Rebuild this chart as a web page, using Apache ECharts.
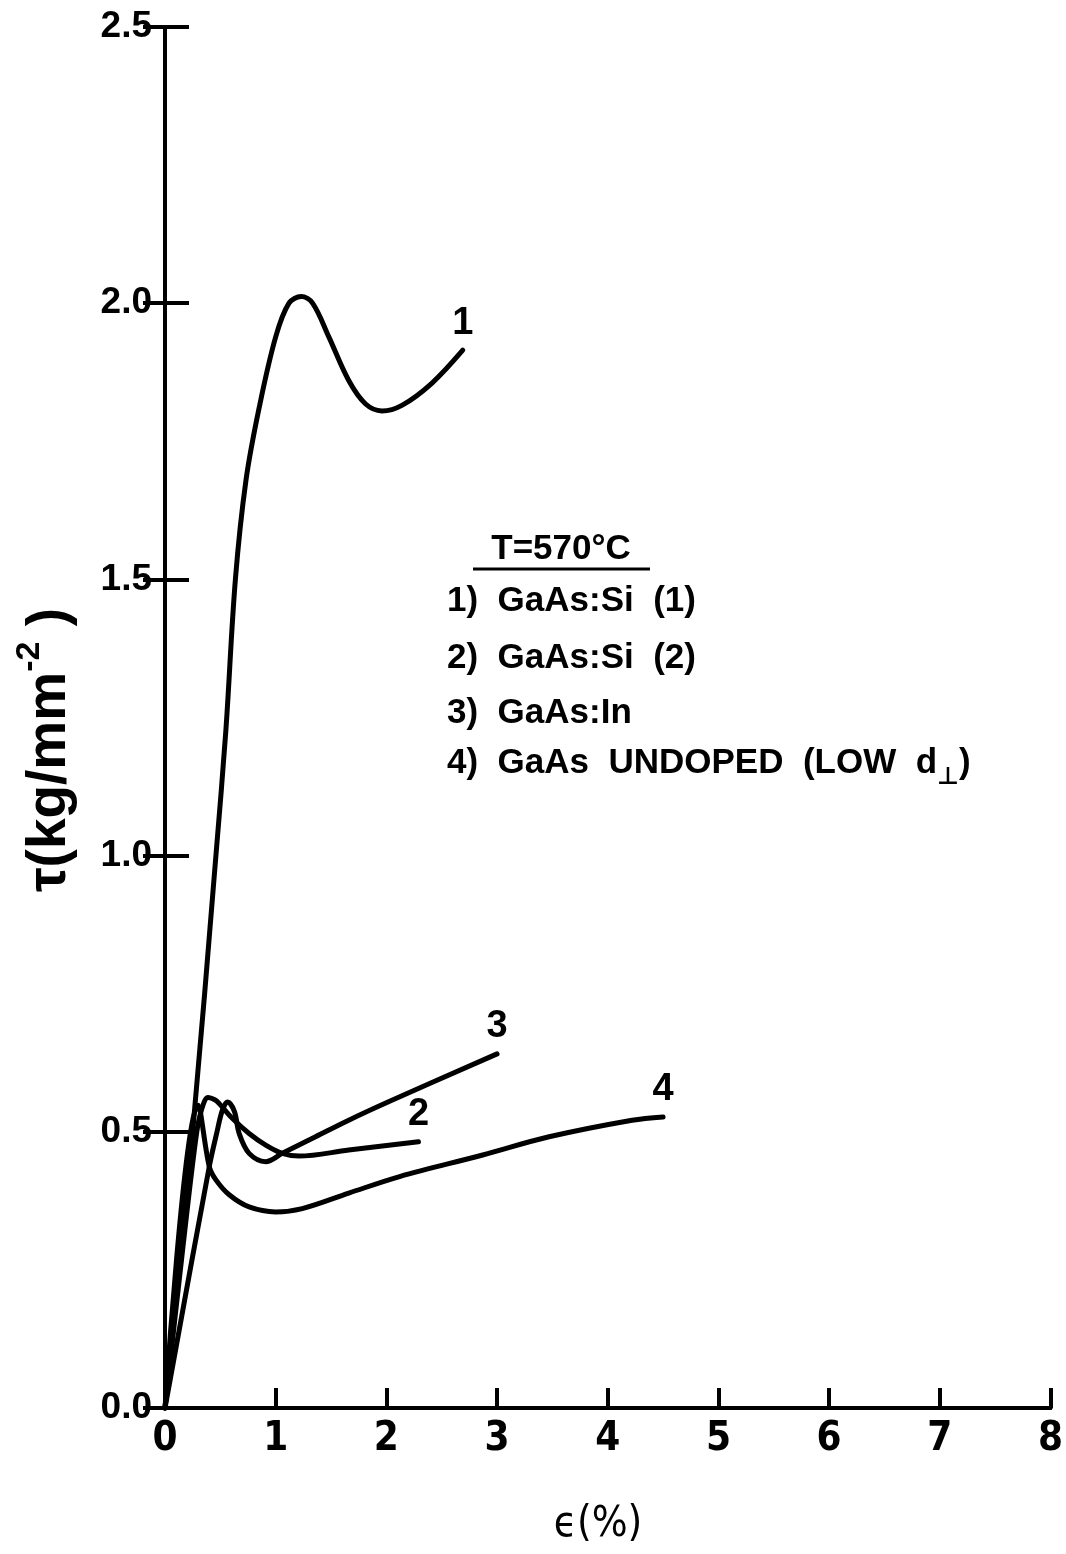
<!DOCTYPE html>
<html>
<head>
<meta charset="utf-8">
<title>Resolved shear stress vs strain, GaAs at 570 °C</title>
<script src="https://cdn.jsdelivr.net/npm/echarts@6/dist/echarts.min.js"></script>
<style>
  html, body { margin: 0; padding: 0; background: #fff; }
  #chart { width: 1066px; height: 1554px; }
</style>
</head>
<body>
<div id="chart"></div>
<script>
// Strain (%) and resolved shear stress (kg/mm^2) for each specimen
const strain1 = [0, 0.25, 0.46, 0.55, 0.636, 0.732, 0.852, 1.0, 1.12, 1.23, 1.333, 1.48, 1.66, 1.81, 1.96, 2.14, 2.41, 2.69];
const stress1 = [0, 0.5, 1.0, 1.227, 1.5, 1.68, 1.812, 1.939, 2.0, 2.012, 2.0, 1.939, 1.86, 1.818, 1.805, 1.815, 1.855, 1.915];

const strain2 = [0, 0.15, 0.28, 0.33, 0.39, 0.45, 0.49, 0.61, 0.76, 0.91, 1.06, 1.21, 1.66, 2.29];
const stress2 = [0, 0.27, 0.49, 0.54, 0.562, 0.558, 0.551, 0.524, 0.497, 0.476, 0.461, 0.456, 0.467, 0.482];

const strain3 = [0, 0.40, 0.47, 0.52, 0.566, 0.627, 0.67, 0.76, 0.91, 1.06, 1.36, 1.66, 2.05, 3.0];
const stress3 = [0, 0.437, 0.50, 0.54, 0.554, 0.537, 0.497, 0.461, 0.446, 0.461, 0.491, 0.521, 0.557, 0.641];

const strain4 = [0, 0.30, 0.40, 0.46, 0.58, 0.76, 1.0, 1.24, 1.66, 2.12, 2.87, 3.47, 4.22, 4.5];
const stress4 = [0, 0.548, 0.437, 0.413, 0.386, 0.364, 0.355, 0.361, 0.389, 0.419, 0.458, 0.491, 0.521, 0.527];

const curveTags = ['1', '2', '3', '4'];
const legendTitle = 'T=570°C';
const legendLines = [
  '1)  GaAs:Si  (1)',
  '2)  GaAs:Si  (2)',
  '3)  GaAs:In'
];
const xTicks = { min: 0, max: 8, step: 1 };
const yTicks = { min: 0, max: 2.5, step: 0.5 };

const INK = '#000';
const NARROW = '"Liberation Sans Narrow", "DejaVu Sans Condensed", "Liberation Sans", sans-serif';
const SANS = '"Liberation Sans", Arial, sans-serif';

function curveSeries(tag, xs, ys) {
  const pts = xs.map((x, i) => [x, ys[i]]);
  const last = pts.length - 1;
  return {
    type: 'line',
    name: tag,
    data: pts.map((p, i) => (i === last ? { value: p, label: { show: true } } : p)),
    smooth: 0.35,
    symbol: 'circle',
    symbolSize: 0,
    showSymbol: true,
    lineStyle: { color: INK, width: 5, cap: 'round', join: 'round' },
    itemStyle: { color: INK },
    label: {
      show: false,
      position: 'top',
      distance: 8,
      formatter: tag,
      color: INK,
      fontFamily: SANS,
      fontWeight: 'bold',
      fontSize: 38
    },
    emphasis: { disabled: true },
    clip: false
  };
}

const chart = echarts.init(document.getElementById('chart'), null, { renderer: 'canvas' });

const tickStyle = { show: true, inside: true, lineStyle: { color: INK, width: 4 } };
const lineStyle = { show: true, lineStyle: { color: INK, width: 4 } };

chart.setOption({
  backgroundColor: '#fff',
  animation: false,
  grid: { left: 165, right: 13, top: 27, bottom: 146, containLabel: false },
  xAxis: [
    {
      type: 'value', position: 'bottom',
      min: xTicks.min, max: xTicks.max, interval: xTicks.step,
      axisLine: lineStyle,
      axisTick: Object.assign({ length: 20 }, tickStyle),
      axisLabel: { color: INK, fontFamily: NARROW, fontWeight: 'bold', fontSize: 40, margin: 12 },
      splitLine: { show: false }
    },
    {
      type: 'value', position: 'top',
      min: xTicks.min, max: xTicks.max, interval: xTicks.step,
      axisLine: lineStyle,
      axisTick: { show: false },
      axisLabel: { show: false },
      splitLine: { show: false }
    }
  ],
  yAxis: [
    {
      type: 'value', position: 'left',
      min: yTicks.min, max: yTicks.max, interval: yTicks.step,
      axisLine: lineStyle,
      axisTick: Object.assign({ length: 24 }, tickStyle),
      axisLabel: {
        color: INK, fontFamily: SANS, fontWeight: 'bold', fontSize: 37, margin: 13,
        formatter: v => v.toFixed(1)
      },
      splitLine: { show: false }
    },
    {
      type: 'value', position: 'right',
      min: yTicks.min, max: yTicks.max, interval: yTicks.step,
      axisLine: lineStyle,
      axisTick: Object.assign({ length: 22 }, tickStyle),
      axisLabel: { show: false },
      splitLine: { show: false }
    }
  ],
  series: [
    curveSeries(curveTags[0], strain1, stress1),
    curveSeries(curveTags[1], strain2, stress2),
    curveSeries(curveTags[2], strain3, stress3),
    curveSeries(curveTags[3], strain4, stress4)
  ],
  graphic: [
    // y-axis title, reading upward
    {
      type: 'text', x: 45, y: 750, rotation: Math.PI / 2,
      style: {
        text: '{m|τ(kg/mm}{s|-2}{m| )}',
        align: 'center', verticalAlign: 'middle', fill: INK,
        rich: {
          m: { font: 'bold 55px ' + SANS, lineHeight: 64, verticalAlign: 'bottom' },
          s: { font: 'bold 34px ' + SANS, lineHeight: 64, verticalAlign: 'top' }
        }
      }
    },
    // x-axis title
    {
      type: 'text', x: 598, y: 1525,
      style: {
        text: 'ϵ(%)', font: '42px ' + NARROW, fill: INK,
        align: 'center', verticalAlign: 'middle'
      }
    },
    // annotation block
    {
      type: 'text', x: 561, y: 549,
      style: { text: legendTitle, font: 'bold 35px ' + SANS, fill: INK, align: 'center', verticalAlign: 'middle' }
    },
    {
      type: 'line', shape: { x1: 473, y1: 569, x2: 650, y2: 569 },
      style: { stroke: INK, lineWidth: 3 }
    },
    {
      type: 'text', x: 447, y: 601,
      style: { text: legendLines[0], font: 'bold 35px ' + SANS, fill: INK, align: 'left', verticalAlign: 'middle' }
    },
    {
      type: 'text', x: 447, y: 658,
      style: { text: legendLines[1], font: 'bold 35px ' + SANS, fill: INK, align: 'left', verticalAlign: 'middle' }
    },
    {
      type: 'text', x: 447, y: 713,
      style: { text: legendLines[2], font: 'bold 35px ' + SANS, fill: INK, align: 'left', verticalAlign: 'middle' }
    },
    {
      type: 'text', x: 447, y: 768,
      style: {
        text: '{b|4)  GaAs  UNDOPED  (LOW  d}{u|⊥}{b|)}',
        align: 'left', verticalAlign: 'middle', fill: INK,
        rich: {
          b: { font: 'bold 35px ' + SANS, lineHeight: 44, verticalAlign: 'top' },
          u: { font: 'bold 24px "DejaVu Sans", sans-serif', lineHeight: 24, verticalAlign: 'bottom' }
        }
      }
    }
  ]
});
</script>
</body>
</html>
